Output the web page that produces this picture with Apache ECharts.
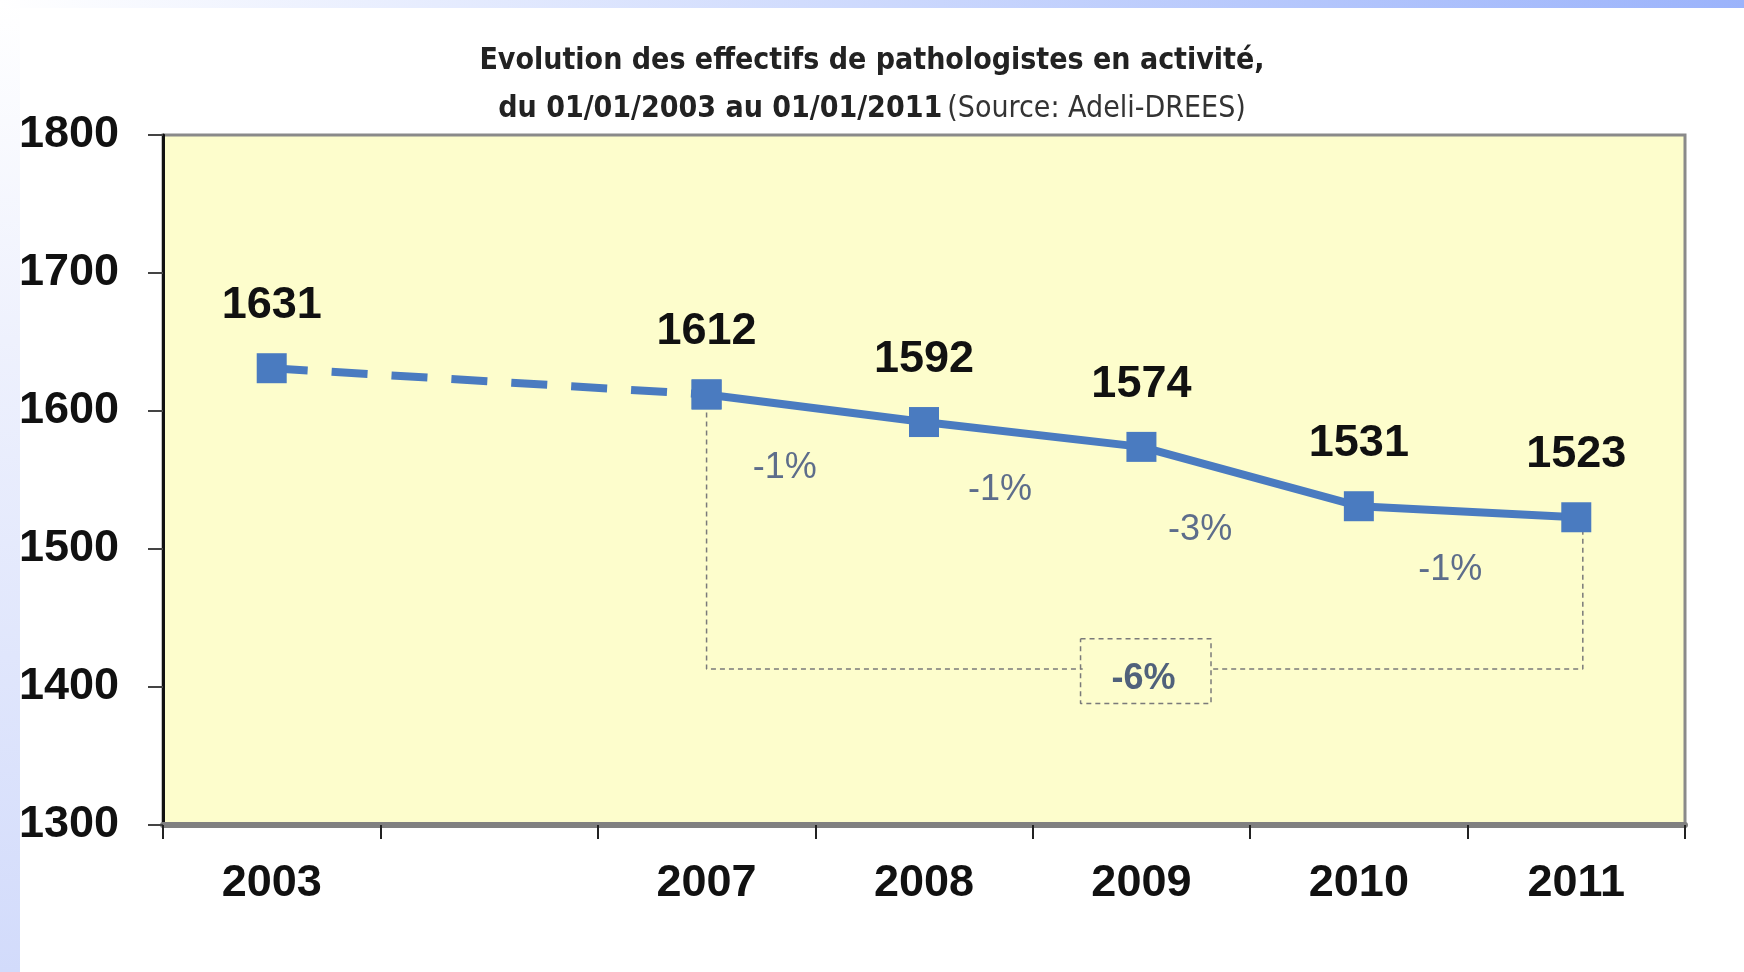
<!DOCTYPE html>
<html>
<head>
<meta charset="utf-8">
<title>Effectifs de pathologistes</title>
<script src="https://cdn.jsdelivr.net/npm/echarts@6/dist/echarts.min.js"></script>
<style>
  html, body { margin: 0; padding: 0; background: #fff; }
  #chart { width: 1744px; height: 972px; }
</style>
</head>
<body>
<div id="chart"></div>
<script>
// data
var years = ['2003', '', '2007', '2008', '2009', '2010', '2011']
var counts = [1631, null, 1612, 1592, 1574, 1531, 1523]
var yTicks = [1300, 1400, 1500, 1600, 1700, 1800]
var changeLabels = ['-1%', '-1%', '-3%', '-1%']
var totalChange = '-6%'

// annotation anchors (hidden value x axis: 0..7, category i centred at i + 0.5)
var changeX = [2.86, 3.85, 4.77, 5.92]
var changeY = [1559, 1543, 1514, 1485]

var blue = '#4a7bc0'
var chart = echarts.init(document.getElementById('chart'))

var dashed = counts.map(function(v, i) { return i <= 2 ? v : null })
var solid = counts.map(function(v, i) { return i >= 2 ? v : null })

var valueLabel = {
  show: true,
  position: 'top',
  distance: 25,
  color: '#111',
  fontFamily: 'Liberation Sans, Arial, sans-serif',
  fontWeight: 'bold',
  fontSize: 45
}

chart.setOption({
  animation: false,
  backgroundColor: '#fff',
  title: {
    left: 'center',
    top: 32,
    text: '{b|Evolution des effectifs de pathologistes en activité,}\n{b|du 01/01/2003 au 01/01/2011} {n|(Source: Adeli-DREES)}',
    textStyle: {
      fontWeight: 'normal',
      rich: {
        b: {
          fontFamily: 'Liberation Sans Narrow, DejaVu Sans Condensed, Arial',
          fontWeight: 'bold',
          fontSize: 30,
          lineHeight: 48,
          color: '#222'
        },
        n: {
          fontFamily: 'Liberation Sans Narrow, DejaVu Sans Condensed, Arial',
          fontWeight: 'normal',
          fontSize: 30,
          lineHeight: 48,
          color: '#333'
        }
      }
    }
  },
  graphic: [
    {
      type: 'rect',
      left: 0,
      top: 0,
      shape: { width: 20, height: 972 },
      style: {
        fill: new echarts.graphic.LinearGradient(0, 0, 0, 1, [
          { offset: 0, color: '#ffffff' },
          { offset: 0.35, color: '#eef1fd' },
          { offset: 1, color: '#d2dbfb' }
        ])
      },
      z: -1
    },
    {
      type: 'rect',
      left: 0,
      top: 0,
      shape: { width: 1744, height: 8 },
      style: {
        fill: new echarts.graphic.LinearGradient(0, 0, 1, 0, [
          { offset: 0, color: '#ffffff' },
          { offset: 1, color: '#9bb3fb' }
        ])
      },
      z: -1
    }
  ],
  grid: {
    left: 163,
    right: 59,
    top: 135,
    bottom: 147,
    show: true,
    backgroundColor: '#fdfdcc',
    borderColor: '#8a8a8a',
    borderWidth: 3
  },
  xAxis: [
    {
      type: 'category',
      data: years,
      boundaryGap: true,
      axisLine: { lineStyle: { color: '#808080', width: 6 } },
      axisTick: { show: true, length: 14, lineStyle: { color: '#222', width: 2 } },
      axisLabel: {
        margin: 36,
        color: '#111',
        fontFamily: 'Liberation Sans, Arial, sans-serif',
        fontWeight: 'bold',
        fontSize: 45,
        interval: 0
      },
      splitLine: { show: false }
    },
    {
      type: 'value',
      min: 0,
      max: 7,
      show: false
    }
  ],
  yAxis: {
    type: 'value',
    min: yTicks[0],
    max: yTicks[yTicks.length - 1],
    interval: 100,
    axisLine: { show: true, lineStyle: { color: '#111', width: 3 } },
    axisTick: { show: true, length: 15, lineStyle: { color: '#444', width: 2 } },
    axisLabel: {
      margin: 44,
      color: '#111',
      fontFamily: 'Liberation Sans, Arial, sans-serif',
      fontWeight: 'bold',
      fontSize: 45,
      formatter: function(v) { return String(v) }
    },
    splitLine: { show: false }
  },
  series: [
    {
      name: 'bracket',
      type: 'line',
      xAxisIndex: 1,
      symbol: 'none',
      silent: true,
      lineStyle: { color: '#7a7a7a', width: 1.5, type: [5, 4] },
      data: [[2.5, counts[2]], [2.5, 1413], [4.23, 1413]],
      z: 1
    },
    {
      name: 'bracket2',
      type: 'line',
      xAxisIndex: 1,
      symbol: 'none',
      silent: true,
      lineStyle: { color: '#7a7a7a', width: 1.5, type: [5, 4] },
      data: [[4.83, 1413], [6.53, 1413], [6.53, 1513]],
      z: 1
    },
    {
      name: 'box',
      type: 'line',
      xAxisIndex: 1,
      symbol: 'none',
      silent: true,
      lineStyle: { color: '#7a7a7a', width: 1.5, type: [5, 4] },
      data: [[4.22, 1435], [4.82, 1435], [4.82, 1388], [4.22, 1388], [4.22, 1435]],
      z: 1
    },
    {
      name: 'total',
      type: 'scatter',
      xAxisIndex: 1,
      symbolSize: 0,
      silent: true,
      label: {
        show: true,
        position: 'inside',
        formatter: totalChange,
        color: '#243a66',
        fontFamily: 'Liberation Sans, Arial, sans-serif',
        fontWeight: 'bold',
        fontSize: 36
      },
      data: [[4.51, 1406]]
    },
    {
      name: 'changes',
      type: 'scatter',
      xAxisIndex: 1,
      symbolSize: 0,
      silent: true,
      label: {
        show: true,
        position: 'inside',
        formatter: function(p) { return changeLabels[p.dataIndex] },
        color: '#34497a',
        fontFamily: 'Liberation Sans, Arial, sans-serif',
        fontSize: 36
      },
      data: changeX.map(function(x, i) { return [x, changeY[i]] })
    },
    {
      name: 'avant 2007',
      type: 'line',
      data: dashed,
      connectNulls: true,
      symbol: 'rect',
      symbolSize: 30,
      itemStyle: { color: blue },
      lineStyle: { color: blue, width: 8, type: [36, 24] },
      label: Object.assign({}, valueLabel, {
        formatter: function(p) { return p.dataIndex === 0 ? p.value : '' }
      }),
      z: 3
    },
    {
      name: 'effectifs',
      type: 'line',
      data: solid,
      symbol: 'rect',
      symbolSize: 30,
      itemStyle: { color: blue },
      lineStyle: { color: blue, width: 8 },
      label: valueLabel,
      z: 4
    }
  ]
})
</script>
</body>
</html>
